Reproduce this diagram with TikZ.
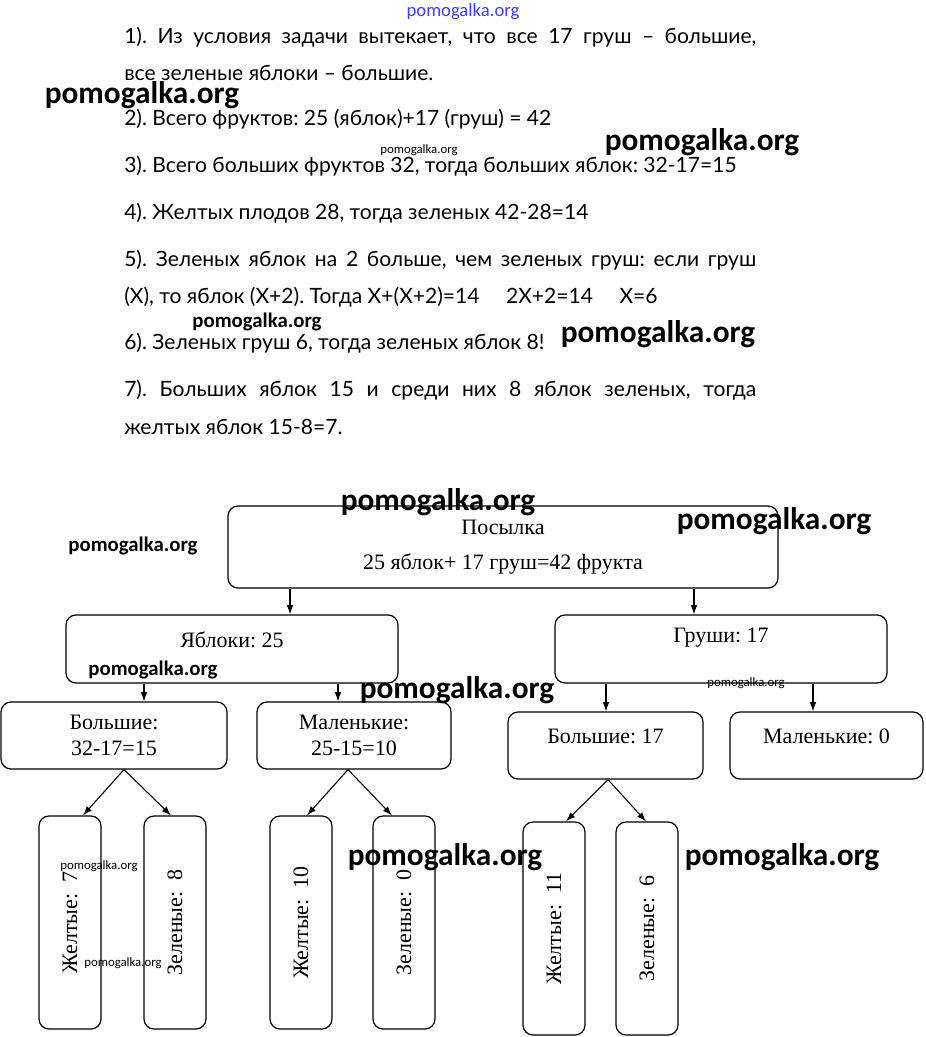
\documentclass[tikz,border=0pt]{standalone}
\usepackage{fontspec}
\setmainfont{Liberation Serif}
\newfontfamily\tfont{Lato}
\newfontfamily\wfont{Carlito}
\usetikzlibrary{arrows.meta}
\frenchspacing
\begin{document}
\begin{tikzpicture}[x=0.75pt,y=-0.75pt,
  box/.style={draw, rounded corners=7.5pt, line width=0.9pt, align=center, inner sep=0pt,
    font=\fontsize{16.5}{20}\selectfont},
  tall/.style={box, minimum width=46.5pt, minimum height=159.75pt},
  lbl/.style={inner sep=0pt, font=\fontsize{16.5}{20}\selectfont},
  arr/.style={-{Latex[length=7pt,width=5pt]}, line width=0.8pt},
  txt/.style={anchor=west, inner sep=0pt, font=\tfont\fontsize{15.8}{18}\selectfont},
  wmL/.style={inner sep=0pt, font=\wfont\bfseries\fontsize{23.5}{24}\selectfont},
  wmM/.style={inner sep=0pt, font=\wfont\bfseries\fontsize{15.6}{16}\selectfont},
  wmS/.style={inner sep=0pt, font=\wfont\fontsize{9.6}{10}\selectfont},
  wmB/.style={inner sep=0pt, text=blue!75!white, font=\wfont\fontsize{14}{14}\selectfont}]
\useasboundingbox (0,0) rectangle (925,1037);
\fill[white] (0,0) rectangle (925,1037);

% ---- solution text ----
\node[txt] (l1) at (124,37) {\makebox[474pt][s]{1). Из условия задачи вытекает, что все 17 груш – большие,}};
\node[txt] (l2) at (124,73) {все зеленые яблоки – большие.};
\node[txt] (l3) at (124,119) {2). Всего фруктов: 25 (яблок)+17 (груш) = 42};
\node[txt] (l4) at (124,166) {3). Всего больших фруктов 32, тогда больших яблок: 32-17=15};
\node[txt] (l5) at (124,213) {4). Желтых плодов 28, тогда зеленых 42-28=14};
\node[txt] (l6) at (124,260) {\makebox[474pt][s]{5). Зеленых яблок на 2 больше, чем зеленых груш: если груш}};
\node[txt] (l7) at (124,297) {(X), то яблок (X+2). Тогда X+(X+2)=14\quad\ 2X+2=14\quad\ X=6};
\node[txt] (l8) at (124,343) {6). Зеленых груш 6, тогда зеленых яблок 8!};
\node[txt] (l9) at (124,390) {\makebox[474pt][s]{7). Больших яблок 15 и среди них 8 яблок зеленых, тогда}};
\node[txt] (l10) at (124,427) {желтых яблок 15-8=7.};

% ---- diagram ----
\node[box, minimum width=412.5pt, minimum height=61.5pt, font=\fontsize{16.5}{26}\selectfont] (p) at (503,547)
  {Посылка\\25 яблок+ 17 груш=42 фрукта};
\node[box, minimum width=249pt, minimum height=51pt] (ya) at (232,649) {};
\node[lbl] (yat) at (232,640) {Яблоки: 25};
\node[box, minimum width=249pt, minimum height=51pt] (gr) at (721,649) {};
\node[lbl] (grt) at (721,638) {Груши: 17};

\node[box, minimum width=169.5pt, minimum height=50.25pt] (b1) at (114,735.5) {Большие:\\32-17=15};
\node[box, minimum width=145.5pt, minimum height=50.25pt] (m1) at (354,735.5) {Маленькие:\\25-15=10};
\node[box, minimum width=146.25pt, minimum height=50.25pt] (b2) at (605.5,745.5) {};
\node[lbl] (b2t) at (605.5,736) {Большие: 17};
\node[box, minimum width=144.75pt, minimum height=50.25pt] (m2) at (826.5,745.5) {};
\node[lbl] (m2t) at (826.5,736) {Маленькие: 0};

\node[tall] (y7) at (70,922.5) {\rotatebox{90}{Желтые:\ \ 7}};
\node[tall] (z8) at (175,922.5) {\rotatebox{90}{Зеленые:\ \ 8}};
\node[tall] (y10) at (301,922.5) {\rotatebox{90}{Желтые:\ \ 10}};
\node[tall] (z0) at (404,922.5) {\rotatebox{90}{Зеленые:\ \ 0}};
\node[tall] (y11) at (554,928.5) {\rotatebox{90}{Желтые:\ \ 11}};
\node[tall] (z6) at (647,928.5) {\rotatebox{90}{Зеленые:\ \ 6}};

% connectors
\coordinate (c1) at (290,0);
\coordinate (c2) at (694,0);
\coordinate (c3) at (144,0);
\coordinate (c4) at (338,0);
\coordinate (c5) at (606,0);
\coordinate (c6) at (813,0);
\draw[arr] (p.south -| c1) -- (ya.north -| c1);
\draw[arr] (p.south -| c2) -- (gr.north -| c2);
\draw[arr] (ya.south -| c3) -- (b1.north -| c3);
\draw[arr] (ya.south -| c4) -- (m1.north -| c4);
\draw[arr] (gr.south -| c5) -- (b2.north -| c5);
\draw[arr] (gr.south -| c6) -- (m2.north -| c6);

\coordinate (k1) at (124,0);
\coordinate (k2) at (348,0);
\coordinate (k3) at (608,0);
\coordinate (e1) at (83,0);
\coordinate (e2) at (171,0);
\coordinate (e3) at (307,0);
\coordinate (e4) at (392,0);
\coordinate (e5) at (566,0);
\coordinate (e6) at (646,0);
\draw[arr] (b1.south -| k1) -- (y7.north -| e1);
\draw[arr] (b1.south -| k1) -- (z8.north -| e2);
\draw[arr] (m1.south -| k2) -- (y10.north -| e3);
\draw[arr] (m1.south -| k2) -- (z0.north -| e4);
\draw[arr] (b2.south -| k3) -- (y11.north -| e5);
\draw[arr] (b2.south -| k3) -- (z6.north -| e6);

% ---- watermarks ----
\node[wmB] (w0) at (463,12) {pomogalka.org};
\node[wmL] (w1) at (142,95) {pomogalka.org};
\node[wmL] (w2) at (702,142) {pomogalka.org};
\node[wmS] (w3) at (419,150) {pomogalka.org};
\node[wmM] (w4) at (257,322) {pomogalka.org};
\node[wmL] (w5) at (658,334) {pomogalka.org};
\node[wmL] (w6) at (438,502) {pomogalka.org};
\node[wmL] (w7) at (774,521) {pomogalka.org};
\node[wmM] (w8) at (133,546) {pomogalka.org};
\node[wmM] (w9) at (153,670) {pomogalka.org};
\node[wmL] (w10) at (457,690) {pomogalka.org};
\node[wmS] (w11) at (746,683) {pomogalka.org};
\node[wmS] (w12) at (99,866) {pomogalka.org};
\node[wmS] (w13) at (123,963) {pomogalka.org};
\node[wmL] (w14) at (445,857) {pomogalka.org};
\node[wmL] (w15) at (782,857) {pomogalka.org};
\end{tikzpicture}
\end{document}
